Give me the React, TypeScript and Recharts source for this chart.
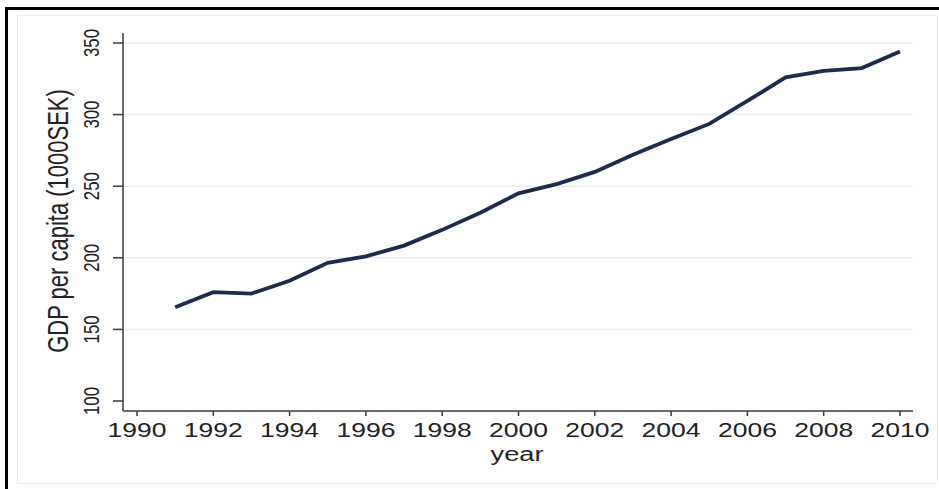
import { LineChart, Line, XAxis, YAxis, ReferenceLine, Label } from "recharts";

const years = [1991, 1992, 1993, 1994, 1995, 1996, 1997, 1998, 1999, 2000, 2001, 2002, 2003, 2004, 2005, 2006, 2007, 2008, 2009, 2010];
const gdp = [165.5, 176, 175, 184, 196.5, 201, 208.5, 219.5, 231.5, 245, 251.5, 260, 272, 283, 293.5, 309.5, 326, 330.5, 332.5, 344];
const xTicks = [1990, 1992, 1994, 1996, 1998, 2000, 2002, 2004, 2006, 2008, 2010];
const yTicks = [100, 150, 200, 250, 300, 350];
const gridLevels = [150, 200, 250, 300, 350];

const data = years.map((year, i) => ({ year, gdp: gdp[i] }));

const FONT = "'Liberation Sans', Arial, sans-serif";
const STRETCH = 1.36;

const XTick = ({ x, y, payload }: any) => (
  <g transform={`translate(${x},${y})`}>
    <text transform={`scale(${STRETCH},1)`} y={19} textAnchor="middle" fontSize={19.5} fill="#222" fontFamily={FONT}>
      {payload.value}
    </text>
  </g>
);

const YTick = ({ x, y, payload }: any) => (
  <g transform={`translate(${x - 12},${y}) rotate(-90)`}>
    <text transform={`scale(1,${STRETCH})`} textAnchor="middle" fontSize={16.8} fill="#222" fontFamily={FONT}>
      {payload.value}
    </text>
  </g>
);

const YTitle = () => (
  <g transform="translate(68,221) rotate(-90)">
    <text transform={`scale(1,${STRETCH})`} textAnchor="middle" fontSize={22} fill="#222" fontFamily={FONT}>
      GDP per capita (1000SEK)
    </text>
  </g>
);

const XTitle = () => (
  <g transform="translate(517,461)">
    <text transform={`scale(${STRETCH},1)`} textAnchor="middle" fontSize={20} fill="#222" fontFamily={FONT}>
      year
    </text>
  </g>
);

export default function App() {
  return (
    <div style={{ position: "absolute", left: 0, top: 0, width: 939, height: 489, background: "#fff", overflow: "hidden" }}>
      <div style={{ position: "absolute", left: 5, top: 7, width: 940, height: 490, borderTop: "3px solid #000", borderLeft: "3px solid #000" }} />
      <div style={{ position: "absolute", left: 17, top: 15, width: 919, height: 467, border: "1px solid #e2ecf1" }} />
      <div style={{ position: "absolute", left: 0, top: 0 }}>
        <LineChart width={939} height={489} data={data} margin={{ top: 33, right: 26, bottom: 38, left: 0 }}>
          {gridLevels.map((v) => (
            <ReferenceLine key={v} y={v} stroke="#e6eef0" strokeWidth={1.5} />
          ))}
          <XAxis
            dataKey="year"
            type="number"
            domain={[1990, 2010]}
            ticks={xTicks}
            padding={{ left: 14, right: 13 }}
            height={40}
            tickSize={5}
            stroke="#3a3a3a"
            strokeWidth={1.5}
            tick={<XTick />}
          >
            <Label content={<XTitle />} />
          </XAxis>
          <YAxis
            type="number"
            domain={[100, 350]}
            ticks={yTicks}
            padding={{ top: 10, bottom: 10 }}
            width={123}
            tickSize={10}
            stroke="#3a3a3a"
            strokeWidth={1.5}
            tick={<YTick />}
          >
            <Label content={<YTitle />} />
          </YAxis>
          <Line
            dataKey="gdp"
            type="linear"
            stroke="#1c2b4e"
            strokeWidth={3.8}
            dot={false}
            isAnimationActive={false}
          />
        </LineChart>
      </div>
    </div>
  );
}
